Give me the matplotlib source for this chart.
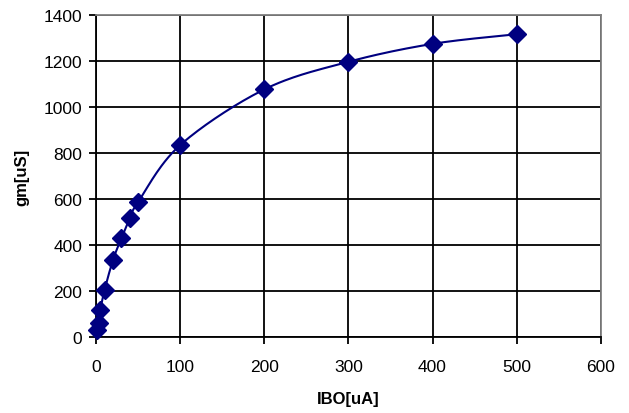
import numpy as np
import matplotlib
matplotlib.use("Agg")
import matplotlib.pyplot as plt

# bias current vs transconductance
ibo_ua = [1, 3, 5, 10, 20, 30, 40, 50, 100, 200, 300, 400, 500]
gm_us = [30, 58, 118, 205, 335, 430, 515, 588, 835, 1077, 1197, 1275, 1317]

x_ticks = [0, 100, 200, 300, 400, 500, 600]
y_ticks = [0, 200, 400, 600, 800, 1000, 1200, 1400]

navy = "#000080"

plt.rcParams["font.family"] = ["Liberation Sans", "DejaVu Sans"]

fig = plt.figure(figsize=(6.29, 4.14), dpi=100)
ax = fig.add_axes([0.153, 0.184, 0.802, 0.777])
ax.set_xlim(0, 600)
ax.set_ylim(0, 1400)


def smooth_curve(ax, xs, ys, n=30):
    # Excel-like smoothing: cubic bezier (catmull-rom) in screen space
    pts = ax.transData.transform(np.column_stack([xs, ys]))
    out = []
    for i in range(len(pts) - 1):
        p0 = pts[i - 1] if i > 0 else pts[i]
        p1 = pts[i]
        p2 = pts[i + 1]
        p3 = pts[i + 2] if i + 2 < len(pts) else pts[i + 1]
        c1 = p1 + (p2 - p0) / 6.0
        c2 = p2 - (p3 - p1) / 6.0
        t = np.linspace(0, 1, n)[:, None]
        seg = ((1 - t) ** 3) * p1 + 3 * ((1 - t) ** 2) * t * c1 + 3 * (1 - t) * t ** 2 * c2 + t ** 3 * p2
        out.append(seg)
    out = np.vstack(out)
    return ax.transData.inverted().transform(out)


curve = smooth_curve(ax, ibo_ua, gm_us)
ax.plot(curve[:, 0], curve[:, 1], color=navy, lw=1.5, zorder=3)
ax.plot(ibo_ua, gm_us, ls="none", marker="D", ms=9.5, color=navy, zorder=4, clip_on=False)

ax.set_xticks(x_ticks)
ax.set_yticks(y_ticks)
ax.grid(True, color="black", lw=1.3)
ax.set_axisbelow(True)
ax.tick_params(direction="out", length=5, width=1.3, labelsize=12.5, colors="black")
ax.tick_params(axis="x", pad=11)
ax.tick_params(axis="y", pad=5)

for side in ["left", "bottom"]:
    ax.spines[side].set_color("black")
    ax.spines[side].set_linewidth(1.3)
for side in ["top", "right"]:
    ax.spines[side].set_color("#808080")
    ax.spines[side].set_linewidth(1.3)

ax.set_xlabel("IBO[uA]", fontsize=12, fontweight="bold", labelpad=12)
ax.set_ylabel("gm[uS]", fontsize=12, fontweight="bold", labelpad=10)

fig.savefig("out.png", dpi=100)
